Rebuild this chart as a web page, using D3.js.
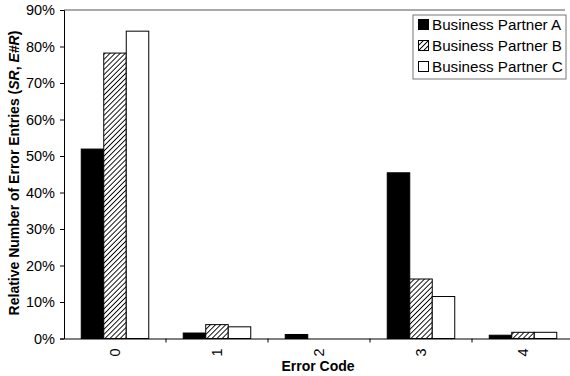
<!DOCTYPE html>
<html><head><meta charset="utf-8">
<script src="https://cdn.jsdelivr.net/npm/d3@7"></script>
<style>html,body{margin:0;padding:0;background:#fff;}svg{display:block;font-family:"Liberation Sans",Arial,sans-serif;}</style>
</head><body>
<svg id="c" width="570" height="376"></svg>
<script>
const categories = ["0","1","2","3","4"];
const seriesNames = ["Business Partner A","Business Partner B","Business Partner C"];
const seriesA = [51.9, 1.5, 1.1, 45.4, 0.9];
const seriesB = [78.2, 3.8, 0, 16.3, 1.7];
const seriesC = [84.2, 3.2, 0, 11.5, 1.7];
const yTicks = [0,10,20,30,40,50,60,70,80,90];

(function(){
const svg = d3.select("#c");
const pLeft = 64, pRight = 574, pTop = 10, pBottom = 338.5;

const defs = svg.append("defs");
const pat = defs.append("pattern").attr("id","hatch").attr("patternUnits","userSpaceOnUse")
  .attr("width",3.6).attr("height",3.6).attr("patternTransform","rotate(45)");
pat.append("rect").attr("width",3.6).attr("height",3.6).attr("fill","#fff");
pat.append("line").attr("x1",0).attr("y1",0).attr("x2",0).attr("y2",3.6).attr("stroke","#000").attr("stroke-width",1.8);

const fills = ["#000","url(#hatch)","#fff"];
const data = [seriesA, seriesB, seriesC];

const x = d3.scaleBand().domain(categories).range([pLeft,pRight]).paddingInner(0).paddingOuter(0);
const xs = d3.scaleBand().domain([0,1,2]).range([0,67.5]);
const y = d3.scaleLinear().domain([0,90]).range([pBottom,pTop]);

// top border
svg.append("line").attr("x1",pLeft).attr("x2",565).attr("y1",pTop).attr("y2",pTop).attr("stroke","#555").attr("stroke-width",1);

// bars
categories.forEach((c,i)=>{
  const g = svg.append("g").attr("transform",`translate(${x(c)+x.bandwidth()/2-33.75},0)`);
  data.forEach((s,j)=>{
    if (s[i] <= 0) return;
    g.append("rect").attr("x",xs(j)).attr("width",xs.bandwidth())
      .attr("y",y(s[i])).attr("height",pBottom-y(s[i]))
      .attr("fill",fills[j]).attr("stroke","#000").attr("stroke-width",1);
  });
});

// y axis
const yAxis = d3.axisLeft(y).tickValues(yTicks).tickSize(4).tickPadding(5).tickFormat(d=>d+"%");
const ya = svg.append("g").attr("transform",`translate(${pLeft},0)`).call(yAxis);
ya.selectAll("text").attr("font-size",14.5).attr("fill","#000").attr("font-family","Liberation Sans, Arial, sans-serif");
ya.selectAll("line,path").attr("stroke","#000");

// x axis
const xAxis = d3.axisBottom(x).tickSize(0).tickPadding(0);
const xa = svg.append("g").attr("transform",`translate(0,${pBottom})`).call(xAxis);
xa.select(".domain").attr("stroke","#000");
xa.selectAll(".tick text").attr("font-size",14.5).attr("fill","#000")
  .attr("font-family","Liberation Sans, Arial, sans-serif")
  .attr("transform","translate(0,14) rotate(-90)").attr("text-anchor","middle").attr("dy","0.35em").attr("y",0).attr("x",0);
categories.slice(1).forEach(c=>{
  xa.append("line").attr("x1",x(c)).attr("x2",x(c)).attr("y1",0).attr("y2",4).attr("stroke","#000");
});

// axis titles
svg.append("text").attr("x",318).attr("y",371).attr("text-anchor","middle")
  .attr("font-size",14).attr("font-weight","bold").text("Error Code");
const yt = svg.append("text").attr("transform","translate(19,173) rotate(-90)").attr("text-anchor","middle")
  .attr("font-size",14).attr("font-weight","bold");
yt.append("tspan").text("Relative Number of Error Entries (");
yt.append("tspan").attr("font-style","italic").text("SR");
yt.append("tspan").text(", ");
yt.append("tspan").attr("font-style","italic").text("E#R");
yt.append("tspan").text(")");

// legend
const lg = svg.append("g");
lg.append("rect").attr("x",413).attr("y",15).attr("width",153).attr("height",64)
  .attr("fill","#fff").attr("stroke","#777").attr("stroke-width",1);
seriesNames.forEach((n,j)=>{
  const cy = 25 + j*21;
  lg.append("rect").attr("x",418.5).attr("y",cy-5.5).attr("width",10).attr("height",10)
    .attr("fill",fills[j]).attr("stroke","#000").attr("stroke-width",1);
  lg.append("text").attr("x",432).attr("y",cy).attr("dy","0.35em").attr("font-size",15.2).text(n);
});
})();
</script>
</body></html>
